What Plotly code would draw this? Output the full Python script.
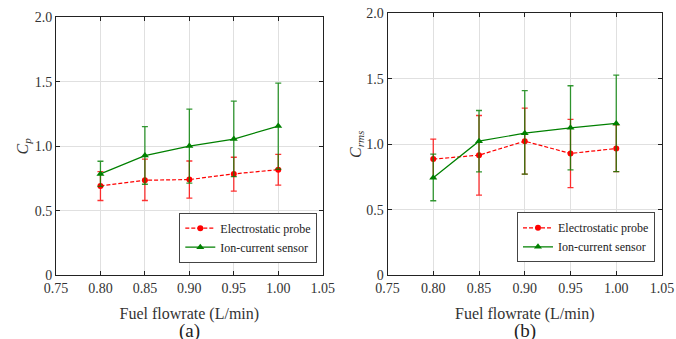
import plotly.graph_objects as go

flow = [0.80, 0.85, 0.90, 0.95, 1.00]

# Panel (a): C_p
cp_probe = [0.693, 0.737, 0.742, 0.786, 0.819]
cp_probe_up = [0.804, 0.900, 0.886, 0.915, 0.938]
cp_probe_lo = [0.580, 0.580, 0.598, 0.652, 0.699]
cp_ion = [0.786, 0.928, 1.002, 1.056, 1.157]
cp_ion_up = [0.884, 1.152, 1.288, 1.350, 1.489]
cp_ion_lo = [0.690, 0.706, 0.714, 0.765, 0.822]

# Panel (b): C_rms
cr_probe = [0.887, 0.917, 1.024, 0.930, 0.968]
cr_probe_up = [1.040, 1.220, 1.276, 1.190, 1.149]
cr_probe_lo = [0.740, 0.612, 0.772, 0.670, 0.792]
cr_ion = [0.744, 1.024, 1.085, 1.126, 1.159]
cr_ion_up = [0.925, 1.258, 1.410, 1.447, 1.528]
cr_ion_lo = [0.569, 0.790, 0.772, 0.805, 0.792]

x_ticks = [0.75, 0.80, 0.85, 0.90, 0.95, 1.00, 1.05]
x_ticklabels = ["0.75", "0.80", "0.85", "0.90", "0.95", "1.00", "1.05"]
y_ticks = [0, 0.5, 1.0, 1.5, 2.0]
y_ticklabels = ["0", "0.5", "1.0", "1.5", "2.0"]

FONT = "Liberation Serif"
RED = "#ff0000"
GREEN = "#008000"

fig = go.Figure()


def add_series(xa, ya, y, up, lo, name, color, ecolor, dash, symbol, msize, legend):
    fig.add_trace(go.Scatter(
        x=flow, y=y, name=name, xaxis=xa, yaxis=ya, legend=legend,
        mode="lines+markers",
        line=dict(color=color, width=1.2, dash=dash),
        marker=dict(color=color, symbol=symbol, size=msize),
        error_y=dict(type="data", symmetric=False,
                     array=[u - v for u, v in zip(up, y)],
                     arrayminus=[v - l for v, l in zip(y, lo)],
                     color=ecolor, thickness=1.3, width=3),
    ))


add_series("x", "y", cp_probe, cp_probe_up, cp_probe_lo, "Electrostatic probe",
           RED, "rgba(255,0,0,0.8)", "4px,2px", "circle", 6, "legend")
add_series("x", "y", cp_ion, cp_ion_up, cp_ion_lo, "Ion-current sensor",
           GREEN, "rgba(0,128,0,0.8)", "solid", "triangle-up", 7, "legend")
add_series("x2", "y2", cr_probe, cr_probe_up, cr_probe_lo, "Electrostatic probe",
           RED, "rgba(255,0,0,0.8)", "4px,2px", "circle", 6, "legend2")
add_series("x2", "y2", cr_ion, cr_ion_up, cr_ion_lo, "Ion-current sensor",
           GREEN, "rgba(0,128,0,0.8)", "solid", "triangle-up", 7, "legend2")

W, H = 676, 339

xa_common = dict(range=[0.75, 1.05], tickvals=x_ticks, ticktext=x_ticklabels,
                 automargin=False,
                 showgrid=True, gridcolor="#e0e0e0", gridwidth=1,
                 showline=True, linecolor="#222", linewidth=1, mirror="ticks",
                 ticks="inside", ticklen=4, tickcolor="#222", zeroline=False,
                 tickfont=dict(family=FONT, size=14, color="#333"),
                 title=dict(text="Fuel flowrate (L/min)", standoff=12,
                            font=dict(family=FONT, size=16, color="#333")))
ya_common = dict(range=[0, 2], tickvals=y_ticks, ticktext=y_ticklabels,
                 automargin=False,
                 showgrid=True, gridcolor="#e0e0e0", gridwidth=1,
                 showline=True, linecolor="#222", linewidth=1, mirror="ticks",
                 ticks="inside", ticklen=4, tickcolor="#222", zeroline=False,
                 tickfont=dict(family=FONT, size=14, color="#333"))

fig.update_layout(
    template="none",
    width=W, height=H,
    margin=dict(l=0, r=0, t=0, b=0, autoexpand=False),
    paper_bgcolor="white", plot_bgcolor="white",
    font=dict(family=FONT, color="#333"),
    xaxis=dict(domain=[56 / W, 322.7 / W], anchor="y", **xa_common),
    yaxis=dict(domain=[1 - 275.3 / H, 1 - 17.3 / H], anchor="x",
               title=dict(text="<i>C</i><sub><i>p</i></sub>", standoff=2,
                          font=dict(family=FONT, size=16, color="#333")),
               **ya_common),
    xaxis2=dict(domain=[387.5 / W, 662 / W], anchor="y2", **xa_common),
    yaxis2=dict(domain=[1 - 275.3 / H, 1 - 13.3 / H], anchor="x2",
                title=dict(text="<i>C</i><sub><i>rms</i></sub>", standoff=0,
                           font=dict(family=FONT, size=16, color="#333")),
                **ya_common),
    legend=dict(x=317.3 / W, y=1 - 262.7 / H, xanchor="right", yanchor="bottom",
                bgcolor="white", bordercolor="#444", borderwidth=1,
                font=dict(family=FONT, size=12, color="#222"),
                itemwidth=30, tracegroupgap=0),
    legend2=dict(x=655 / W, y=1 - 262.3 / H, xanchor="right", yanchor="bottom",
                 bgcolor="white", bordercolor="#444", borderwidth=1,
                 font=dict(family=FONT, size=12, color="#222"),
                 itemwidth=30, tracegroupgap=0),
    annotations=[
        dict(text="(a)", x=189.5 / W, y=1 - 331 / H, xref="paper", yref="paper",
             xanchor="center", yanchor="middle",
             showarrow=False, font=dict(family=FONT, size=19, color="#222")),
        dict(text="(b)", x=524.5 / W, y=1 - 331 / H, xref="paper", yref="paper",
             xanchor="center", yanchor="middle",
             showarrow=False, font=dict(family=FONT, size=19, color="#222")),
    ],
)

fig.write_html("out.html",
               config={"displayModeBar": False},
               post_script="document.body.style.margin='0px';document.body.style.overflow='hidden';")
